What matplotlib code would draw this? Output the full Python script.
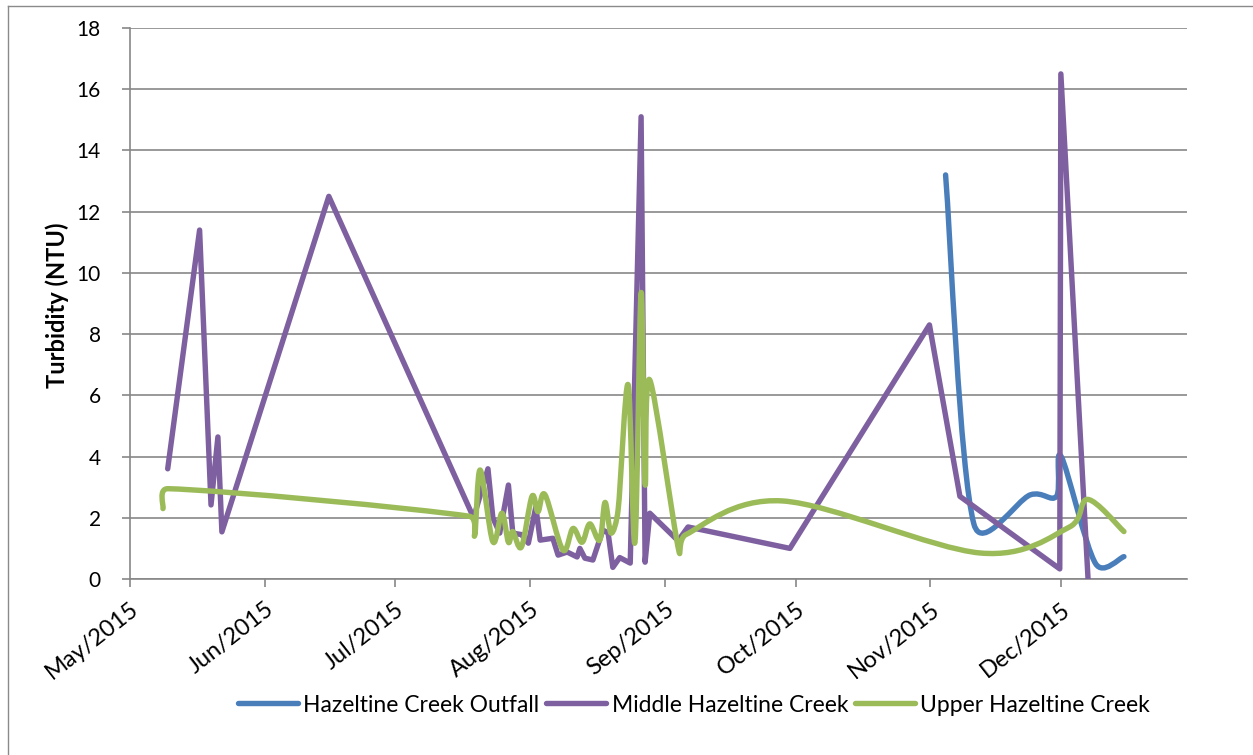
import numpy as np
import pandas as pd
import matplotlib
matplotlib.use("Agg")
import matplotlib.pyplot as plt
import matplotlib.dates as mdates
from matplotlib.path import Path
from matplotlib.patches import PathPatch
from matplotlib.lines import Line2D

# -------------------------------------------------
# Turbidity readings (NTU) per sampling site
# -------------------------------------------------

outfall_dates = ["2015-11-04 12:00", "2015-11-11", "2015-11-24", "2015-11-30",
                 "2015-12-01 02:00", "2015-12-09", "2015-12-15 12:00"]
outfall_ntu = [13.2, 1.8, 2.75, 2.7, 4.0, 0.5, 0.73]

middle_dates = ["2015-05-09 16:00", "2015-05-17", "2015-05-19 15:00", "2015-05-21 05:00",
                "2015-05-22 03:00", "2015-06-15 17:00", "2015-07-19", "2015-07-22 07:00",
                "2015-07-23 10:00", "2015-07-25", "2015-07-27", "2015-07-28",
                "2015-07-30", "2015-07-31 14:00", "2015-08-02 07:00", "2015-08-03 07:00",
                "2015-08-06 05:00", "2015-08-07 10:00", "2015-08-09 12:00", "2015-08-11 19:00",
                "2015-08-12 10:00", "2015-08-13 14:00", "2015-08-15 10:00", "2015-08-17 17:00",
                "2015-08-18 22:00", "2015-08-20", "2015-08-21 14:00", "2015-08-24",
                "2015-08-26 12:00", "2015-08-27 10:00", "2015-08-28 12:00", "2015-09-04",
                "2015-09-06 07:00", "2015-09-29 17:00", "2015-10-31 19:00", "2015-11-07 19:00",
                "2015-11-30 18:00", "2015-12-01", "2015-12-07 06:00"]
middle_ntu = [3.6, 11.4, 2.42, 4.64, 1.54, 12.5, 2.0, 3.6, 2.0, 1.5,
              3.07, 1.5, 1.45, 1.17, 2.35, 1.27, 1.33, 0.78, 0.88, 0.72,
              1.0, 0.68, 0.62, 1.6, 1.5, 0.38, 0.7, 0.52, 15.1, 0.55,
              2.15, 1.25, 1.7, 1.0, 8.3, 2.7, 0.33, 16.5, 0.0]

upper_dates = ["2015-05-08 14:00", "2015-05-09 18:00", "2015-07-18", "2015-07-19 06:00",
               "2015-07-20 12:00", "2015-07-23 10:00", "2015-07-25 12:00", "2015-07-27",
               "2015-07-28", "2015-07-30", "2015-08-01 10:00", "2015-08-02 19:00",
               "2015-08-04 10:00", "2015-08-08 12:00", "2015-08-10 20:00", "2015-08-12 22:00",
               "2015-08-14 17:00", "2015-08-17", "2015-08-18 05:00", "2015-08-19 14:00",
               "2015-08-21 05:00", "2015-08-23 12:00", "2015-08-25 02:00", "2015-08-26 12:00",
               "2015-08-27 10:00", "2015-08-28 12:00", "2015-09-04 05:00", "2015-09-05 19:00",
               "2015-09-28", "2015-11-12 10:00", "2015-12-03", "2015-12-07 05:00",
               "2015-12-15 12:00"]
upper_ntu = [2.3, 2.95, 2.05, 1.44, 3.56, 1.22, 2.15, 1.2, 1.55, 1.05,
             2.7, 2.2, 2.75, 0.95, 1.65, 1.2, 1.8, 1.27, 2.5, 1.5,
             2.25, 6.35, 1.2, 9.35, 3.1, 6.5, 0.9, 1.45, 2.55, 0.85,
             1.7, 2.6, 1.55]

series_names = ["Hazeltine Creek Outfall", "Middle Hazeltine Creek", "Upper Hazeltine Creek"]
series_colors = ["#4A7EBB", "#7E60A0", "#9BBB59"]

GRID = "#878787"
FONT = "Lato"
LW = 3.9

plt.rcParams["font.family"] = [FONT, "DejaVu Sans"]


def to_num(dates):
    return mdates.date2num(pd.to_datetime(dates, format="mixed"))


def smooth_path(ax, x, y):
    # Bezier path through the points, arms capped at half the segment length
    pts = ax.transData.transform(np.column_stack([x, y]))
    n = len(pts)
    verts = [pts[0]]
    codes = [Path.MOVETO]
    for i in range(n - 1):
        p0 = pts[max(i - 1, 0)]
        p1 = pts[i]
        p2 = pts[i + 1]
        p3 = pts[min(i + 2, n - 1)]
        d12 = np.hypot(*(p2 - p1))
        d02 = np.hypot(*(p2 - p0))
        d13 = np.hypot(*(p3 - p1))
        f1 = 1 / 6 if d02 / 6 < d12 / 2 else d12 / 2 / d02
        f2 = 1 / 6 if d13 / 6 < d12 / 2 else d12 / 2 / d13
        verts += [p1 + (p2 - p0) * f1, p2 - (p3 - p1) * f2, p2]
        codes += [Path.CURVE4] * 3
    verts = ax.transData.inverted().transform(np.array(verts))
    return Path(verts, codes)


# -------------------------------------------------
# Figure and axes
# -------------------------------------------------

W, H = 1253, 755
fig = plt.figure(figsize=(W / 100, H / 100), dpi=100)
ax = fig.add_axes([130 / W, 1 - 579 / H, (1187 - 130) / W, (579 - 28) / H])

ax.set_xlim(to_num(["2015-05-01"])[0], to_num(["2015-12-30"])[0])
ax.set_ylim(0, 18)
ax.set_yticks(np.arange(0, 19, 2))

ax.xaxis.set_major_locator(mdates.MonthLocator())
ax.xaxis.set_major_formatter(mdates.DateFormatter("%b/%Y"))

ax.grid(axis="y", color=GRID, linewidth=1.2)
ax.set_axisbelow(True)
for side in ["top", "right"]:
    ax.spines[side].set_visible(False)
for side in ["left", "bottom"]:
    ax.spines[side].set_color(GRID)
    ax.spines[side].set_linewidth(1.2)

ax.tick_params(axis="both", direction="out", length=6, width=1.2, color=GRID,
               labelcolor="black")
ax.tick_params(axis="y", pad=15, labelsize=15)
ax.tick_params(axis="x", pad=8, labelsize=17)
for lbl in ax.get_xticklabels():
    lbl.set_rotation(38)
    lbl.set_ha("right")
    lbl.set_rotation_mode("anchor")

# -------------------------------------------------
# Series
# -------------------------------------------------

outfall_x = to_num(outfall_dates)
middle_x = to_num(middle_dates)
upper_x = to_num(upper_dates)

ax.add_patch(PathPatch(smooth_path(ax, outfall_x, outfall_ntu), fill=False,
                       edgecolor=series_colors[0], linewidth=LW,
                       capstyle="round", joinstyle="round", zorder=3))
ax.plot(middle_x, middle_ntu, color=series_colors[1], linewidth=LW,
        solid_capstyle="round", solid_joinstyle="round", zorder=4)
ax.add_patch(PathPatch(smooth_path(ax, upper_x, upper_ntu), fill=False,
                       edgecolor=series_colors[2], linewidth=LW,
                       capstyle="round", joinstyle="round", zorder=5))

# -------------------------------------------------
# Labels, legend and chart border
# -------------------------------------------------

fig.text(57 / W, 1 - 305 / H, "Turbidity (NTU)", rotation=90, fontsize=17,
         fontweight="bold", ha="center", va="center")

handles = [Line2D([], [], color=c, linewidth=LW, solid_capstyle="round")
           for c in series_colors]
fig.legend(handles, series_names, loc="center", bbox_to_anchor=(694 / W, 1 - 705 / H),
           ncol=3, frameon=False, fontsize=16.5, handlelength=2.6,
           handletextpad=0.25, columnspacing=0.3)

fig.add_artist(Line2D([7.5 / W, 7.5 / W], [0, 1 - 5.5 / H], color="#8a8a8a", linewidth=1))
fig.add_artist(Line2D([7.5 / W, 1], [1 - 5.5 / H, 1 - 5.5 / H], color="#8a8a8a", linewidth=1))

fig.savefig("out.png", dpi=100)
